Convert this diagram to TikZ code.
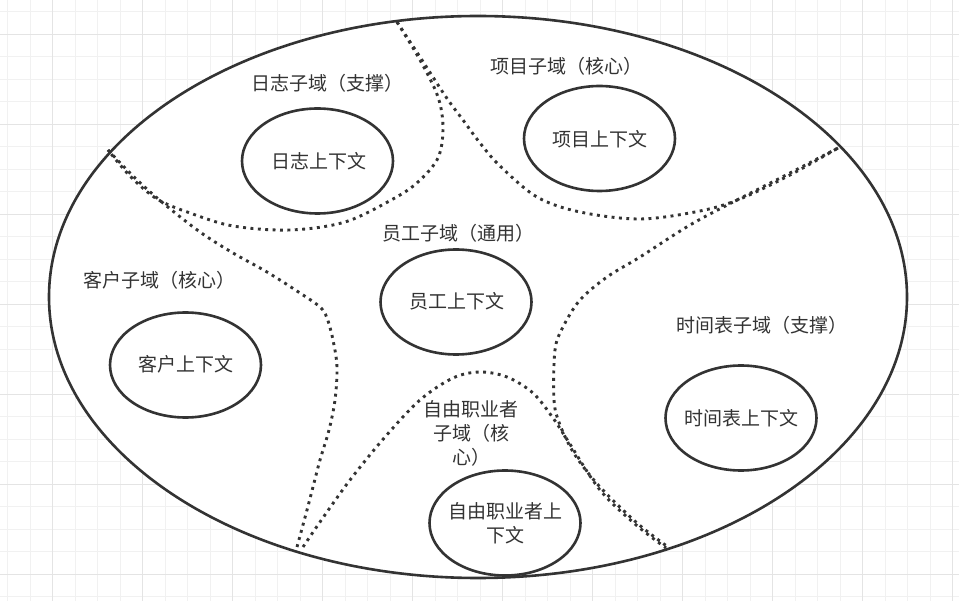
\documentclass[tikz,border=0pt]{standalone}
\usepackage{fontspec}
\newfontfamily\cjk{Noto Sans CJK SC}
\usetikzlibrary{shapes.geometric}
\definecolor{ink}{HTML}{333333}
\definecolor{txt}{HTML}{333333}
\definecolor{gminor}{HTML}{F1F1F1}
\definecolor{gmajor}{HTML}{E4E4E4}
\tikzset{
  outerbox/.style={draw=ink, fill=white, line width=2.6pt, ellipse, minimum width=858pt, minimum height=562pt, inner sep=0pt},
  ctx/.style={draw=ink, fill=white, line width=2.6pt, ellipse, minimum width=151pt, minimum height=105pt, inner sep=0pt},
  lbl/.style={text=txt, font=\cjk\fontsize{19}{24}\selectfont, inner sep=0pt, align=center},
  border/.style={draw=ink, line width=2.9pt, dash pattern=on 2.9pt off 4.5pt},
}
\begin{document}
\begin{tikzpicture}[x=1pt,y=-1pt]
\useasboundingbox (0,0) rectangle (959,601);
\fill[white] (0,0) rectangle (959,601);
% grid
\foreach \i in {0,...,42} \draw[gminor, line width=1pt] ({7.7+22.5*\i},0) -- ({7.7+22.5*\i},601);
\foreach \i in {0,...,26} \draw[gminor, line width=1pt] (0,{11.8+22.5*\i}) -- (959,{11.8+22.5*\i});
\foreach \i in {0,...,10} \draw[gmajor, line width=1pt] ({52.7+90*\i},0) -- ({52.7+90*\i},601);
\foreach \i in {0,...,6} \draw[gmajor, line width=1pt] (0,{34.3+90*\i}) -- (959,{34.3+90*\i});
% domain
\node[outerbox] (domain) at (478,297) {};
% dotted boundaries
\draw[border] plot[smooth, tension=0.55] coordinates {(397,22) (420,60) (438,97) (443,128) (438,158) (418,182) (393,199) (345,222) (290,230) (233,226) (190,213) (157,199) (130,176) (108,150)};
\draw[border] plot[smooth, tension=0.55] coordinates {(397,22) (420,57) (446,97) (463,120) (480,143) (500,166) (537,197) (580,212) (640,219) (700,211) (740,199) (790,175) (838,148)};
\draw[border] plot[smooth, tension=0.55] coordinates {(838,148) (790,173) (737,200) (690,225) (640,257) (607,277) (580,300) (563,327) (555,350) (554,400) (560,425) (575,455) (600,487) (637,523) (668,547)};
\draw[border] plot[smooth, tension=0.55] coordinates {(303,547) (320,522) (350,480) (385,437) (420,400) (453,378) (480,372) (507,377) (533,393) (553,418) (568,441) (600,490) (635,524) (666,548)};
\draw[border] plot[smooth, tension=0.55] coordinates {(108,150) (135,178) (163,203) (200,232) (233,253) (267,272) (300,293) (320,307) (327,318) (333,340) (337,367) (335,400) (329,430) (320,460) (313,487) (307,510) (297,547)};
% contexts
\node[ctx] (rizhi) at (317.5,161) {};
\node[ctx] (xiangmu) at (599.5,138.5) {};
\node[ctx] (yuangong) at (456,302) {};
\node[ctx] (kehu) at (185.5,365) {};
\node[ctx] (shijian) at (741,418) {};
\node[ctx] (ziyou) at (505,523) {};
\node[lbl] (rizhiT) at (319,161) {日志上下文};
\node[lbl] (xiangmuT) at (600,139.5) {项目上下文};
\node[lbl] (yuangongT) at (456.5,301.7) {员工上下文};
\node[lbl] (kehuT) at (186,364) {客户上下文};
\node[lbl] (shijianT) at (741.5,418) {时间表上下文};
\node[lbl] (ziyouT) at (505,523) {自由职业者上\\下文};
% subdomain labels
\node[lbl] (rizhiL) at (327,83) {日志子域（支撑）};
\node[lbl] (xiangmuL) at (566,66.5) {项目子域（核心）};
\node[lbl] (yuangongL) at (458,233.3) {员工子域（通用）};
\node[lbl] (kehuL) at (159,280.5) {客户子域（核心）};
\node[lbl] (shijianL) at (761.5,325.3) {时间表子域（支撑）};
\node[lbl] (ziyouL) at (471,433) {自由职业者\\子域（核\\心）};
\end{tikzpicture}
\end{document}
